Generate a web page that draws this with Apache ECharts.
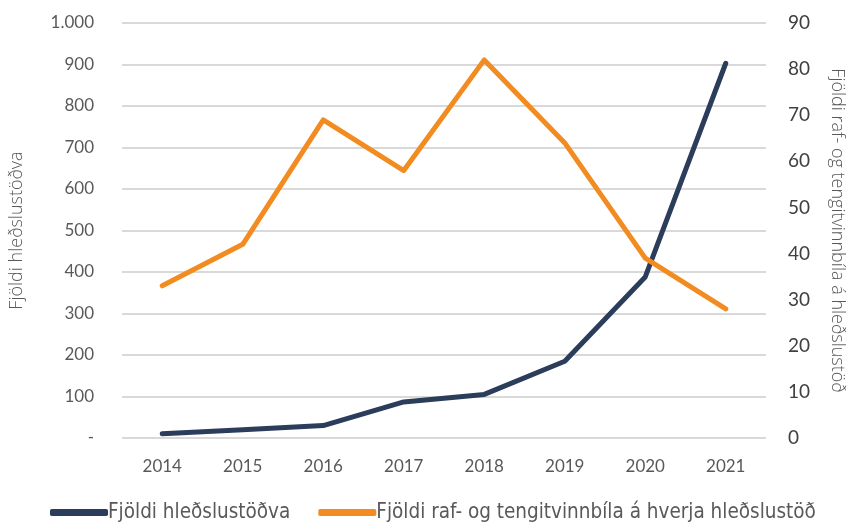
<!DOCTYPE html>
<html>
<head>
<meta charset="utf-8">
<script src="https://cdn.jsdelivr.net/npm/echarts@6/dist/echarts.min.js"></script>
<style>
  html, body { margin: 0; padding: 0; background: #fff; }
  #box { width: 854px; height: 522px; }
</style>
</head>
<body>
<div id="box"></div>
<script>
const years = ['2014', '2015', '2016', '2017', '2018', '2019', '2020', '2021']
const stations = [10, 20, 30, 87, 105, 185, 388, 903]
const carsPerStation = [33, 42, 69, 58, 82, 64, 39, 28]

const navy = '#2b3d5b'
const orange = '#f28b20'
const font = 'Lato'

const chart = echarts.init(document.getElementById('box'))

chart.setOption({
    animation: false,
    grid: { left: 116, right: 84, top: 23, bottom: 84 },
    legend: {
        bottom: -6,
        left: 45,
        itemWidth: 58,
        itemHeight: 7,
        itemGap: 28,
        icon: 'roundRect',
        textStyle: { fontFamily: 'DejaVu Sans Condensed', fontSize: 20.5, color: '#595959', padding: [0, 0, 0, -5] },
        data: ['Fjöldi hleðslustöðva', 'Fjöldi raf- og tengitvinnbíla á hverja hleðslustöð']
    },
    xAxis: {
        type: 'category',
        data: years,
        axisLine: { show: false },
        axisTick: { show: false },
        axisLabel: { color: '#595959', fontSize: 17, fontFamily: font, margin: 20 }
    },
    yAxis: [
        {
            type: 'value',
            min: 0, max: 1000, interval: 100,
            name: 'Fjöldi hleðslustöðva',
            nameLocation: 'middle',
            nameRotate: 90,
            nameGap: 96,
            nameTextStyle: { color: '#595959', fontSize: 18, fontFamily: 'Open Sans', fontWeight: 300 },
            axisLine: { show: false },
            axisTick: { show: false },
            splitLine: { lineStyle: { color: '#d9d9d9', width: 2 } },
            axisLabel: {
                color: '#595959', fontSize: 17, fontFamily: font, margin: 28,
                formatter: v => v === 0 ? '-' : v.toLocaleString('de-DE')
            }
        },
        {
            type: 'value',
            min: 0, max: 90, interval: 10,
            name: 'Fjöldi raf- og tengitvinnbíla á hleðslustöð',
            nameLocation: 'middle',
            nameRotate: -90,
            nameGap: 62,
            nameTextStyle: { color: '#595959', fontSize: 18, fontFamily: 'Open Sans', fontWeight: 300 },
            axisLine: { show: false },
            axisTick: { show: false },
            splitLine: { show: false },
            axisLabel: { color: '#404040', fontSize: 19, fontFamily: font, margin: 22 }
        }
    ],
    series: [
        {
            name: 'Fjöldi hleðslustöðva',
            type: 'line',
            data: stations,
            yAxisIndex: 0,
            symbol: 'none',
            color: navy,
            lineStyle: { width: 5, color: navy, cap: 'round', join: 'round' }
        },
        {
            name: 'Fjöldi raf- og tengitvinnbíla á hverja hleðslustöð',
            type: 'line',
            data: carsPerStation,
            yAxisIndex: 1,
            symbol: 'none',
            color: orange,
            lineStyle: { width: 5, color: orange, cap: 'round', join: 'round' }
        }
    ]
})
</script>
</body>
</html>
